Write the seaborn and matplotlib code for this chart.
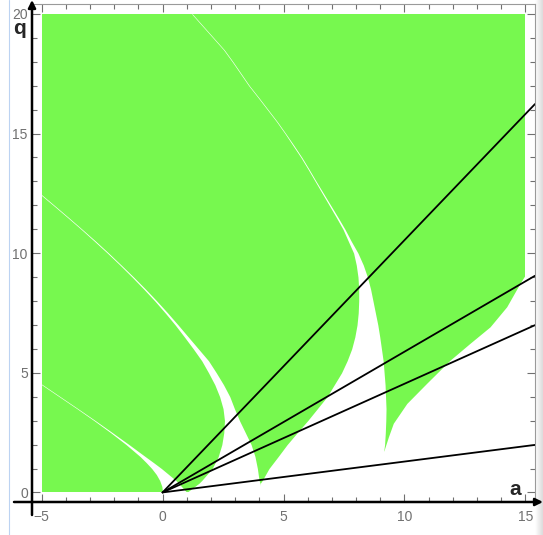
import numpy as np
import pandas as pd
import seaborn as sns
import matplotlib.pyplot as plt
from matplotlib.lines import Line2D
from matplotlib.ticker import MultipleLocator

# unstable (green) area of the a-q plane
a_range = [-5, 15]
q_range = [0, 20]

# white stable tongues: q levels with left / right a edges
q1 = [0, 0.25, 0.5, 0.75, 1.0, 1.25, 1.5, 2.0, 2.5, 3.0, 3.5, 4.0, 4.5, 4.8]
a1_left = [0, -0.03, -0.12, -0.26, -0.45, -0.68, -0.93, -1.51, -2.15, -2.83, -3.54, -4.27, -5.0, -5.45]
a1_right = [1.0, 0.78, 0.55, 0.25, -0.05, -0.38, -0.72, -1.39, -2.08, -2.78, -3.50, -4.23, -4.96, -5.41]

q2 = [0, 0.38, 0.5, 1.0, 1.5, 2.0, 2.5, 3.0, 3.5, 4.0, 4.5, 5.0, 5.5, 6.0, 6.5, 7.0,
      7.5, 8.0, 8.5, 9.0, 9.5, 10.0, 10.5, 11.0, 11.5, 12.0, 12.5, 12.8]
a2_left = [1.0, 1.5, 1.62, 2.05, 2.3, 2.45, 2.53, 2.56, 2.5, 2.36, 2.16, 1.9, 1.62, 1.27, 0.9, 0.52,
           0.11, -0.32, -0.78, -1.26, -1.76, -2.28, -2.82, -3.37, -3.94, -4.52, -5.11, -5.46]
a2_right = [4.1, 4.03, 3.99, 3.92, 3.82, 3.66, 3.42, 3.18, 2.97, 2.78, 2.52, 2.22, 1.9, 1.48, 1.06, 0.64,
            0.21, -0.24, -0.71, -1.20, -1.71, -2.23, -2.77, -3.33, -3.90, -4.48, -5.07, -5.42]

q3 = [0, 0.38, 0.5, 1.0, 1.5, 1.77, 2.0, 2.5, 3.0, 3.5, 4.0, 4.5, 5.0, 5.5, 6.0, 6.5, 7.0, 7.5,
      8.0, 8.5, 9.0, 9.5, 10.0, 10.5, 11.0, 11.5, 12.0, 12.5, 13.0, 13.5, 14.0, 14.5, 15.0, 15.5,
      16.0, 16.5, 17.0, 17.5, 18.0, 18.5, 19.0, 19.5, 20.0]
a3_left = [3.95, 4.04, 4.12, 4.4, 4.78, 4.98, 5.15, 5.57, 6.0, 6.4, 6.8, 7.1, 7.4, 7.63, 7.82, 7.95,
           8.04, 8.09, 8.11, 8.11, 8.08, 8.01, 7.9, 7.68, 7.46, 7.18, 6.89, 6.6, 6.31, 6.02, 5.72,
           5.39, 5.06, 4.71, 4.33, 3.95, 3.56, 3.22, 2.88, 2.52, 2.08, 1.64, 1.2]
a3_right = [9.3, 9.3, 9.3, 9.3, 9.3, 9.15, 9.18, 9.21, 9.23, 9.24, 9.22, 9.2, 9.16, 9.12, 9.05, 8.98,
            8.9, 8.8, 8.7, 8.6, 8.47, 8.3, 8.08, 7.8, 7.54, 7.25, 6.95, 6.65, 6.35, 6.06, 5.76,
            5.43, 5.09, 4.74, 4.36, 3.98, 3.59, 3.25, 2.91, 2.55, 2.11, 1.67, 1.23]

q4 = [0, 1.77, 2.33, 2.89, 3.72, 4.56, 5.53, 6.23, 6.92, 7.76, 8.74, 9.08, 9.25]
a4_left = [9.16, 9.16, 9.34, 9.54, 10.1, 10.92, 11.89, 12.71, 13.54, 14.23, 14.78, 14.99, 15.0]

# straight lines q = k * a through the origin
ray_slopes = [1.054, 0.588, 0.454, 0.129]

x_ticks = [-5, 0, 5, 10, 15]
x_labels = ['\u22125', '0', '5', '10', '15']
y_ticks = [0, 5, 10, 15, 20]

green = '#77f84f'
grey = '#707070'

sns.set_style('ticks')
plt.rcParams['font.family'] = ['Liberation Sans', 'DejaVu Sans']
plt.rcParams['mathtext.fontset'] = 'custom'
plt.rcParams['mathtext.bf'] = 'Liberation Sans:bold'

W, H = 543, 535
fig = plt.figure(figsize=(W / 100, H / 100), dpi=100)

# faint shadow strip on the right edge of the screenshot
shade = fig.add_axes([535 / W, 0, 8 / W, 1])
shade.imshow(np.linspace(1.0, 0.86, 20)[None, :], cmap='gray', vmin=0, vmax=1, aspect='auto')
shade.set_axis_off()

ax = fig.add_axes([32 / W, 33 / H, 503 / W, 497.7 / H])
ax.set_facecolor('none')

ax.fill_between(a_range, q_range[0], q_range[1], color=green, lw=0)
for q, left, right in [(q1, a1_left, a1_right), (q2, a2_left, a2_right),
                       (q3, a3_left, a3_right), (q4, a4_left, a_range[1])]:
    ax.fill_betweenx(q, left, right, color='white', lw=0)

ax.set_xlim(-5.4, 15.4)
ax.set_ylim(-0.4, 20.4)

rows = []
for i, k in enumerate(ray_slopes):
    for a in (0, ax.get_xlim()[1]):
        rows.append({'ray': i, 'a': a, 'q': k * a})
df = pd.DataFrame(rows)
sns.lineplot(data=df, x='a', y='q', units='ray', estimator=None, color='black', lw=1.3, ax=ax)

ax.set_xlim(-5.4, 15.4)
ax.set_ylim(-0.4, 20.4)
ax.set_xlabel('')
ax.set_ylabel('')

ax.set_xticks(x_ticks)
ax.set_xticklabels(x_labels)
ax.set_yticks(y_ticks)
ax.xaxis.set_minor_locator(MultipleLocator(1))
ax.yaxis.set_minor_locator(MultipleLocator(1))
ax.tick_params(which='major', direction='in', length=6, width=0.8, color=grey,
               labelcolor=grey, labelsize=10, top=True, right=True)
ax.tick_params(which='minor', direction='in', length=3.5, width=0.8, color=grey, top=True, right=True)
ax.tick_params(axis='x', pad=6)
ax.tick_params(axis='y', pad=3)

for s in ['top', 'right']:
    ax.spines[s].set_color('#9a9a9a')
    ax.spines[s].set_linewidth(0.8)
for s in ['left', 'bottom']:
    ax.spines[s].set_visible(False)

# axes with arrow heads
arrow = dict(arrowstyle='-|>', color='black', lw=1.8, mutation_scale=11, shrinkA=0, shrinkB=0)
ax.annotate('', xy=(1.0, 33 / H), xytext=(14 / W, 33 / H), xycoords='figure fraction', arrowprops=arrow)
ax.annotate('', xy=(32 / W, 1.0), xytext=(32 / W, 20 / H), xycoords='figure fraction', arrowprops=arrow)

fig.text(20 / W, 1 - 34 / H, r'$\mathbf{q}$', fontsize=15, ha='center', va='baseline')
fig.text(516 / W, 1 - 495 / H, r'$\mathbf{a}$', fontsize=15, ha='center', va='baseline')

fig.add_artist(Line2D([9 / W, 9 / W], [0, 1], color='#bcd3f2', lw=0.8))

fig.savefig('out.png', dpi=100)
